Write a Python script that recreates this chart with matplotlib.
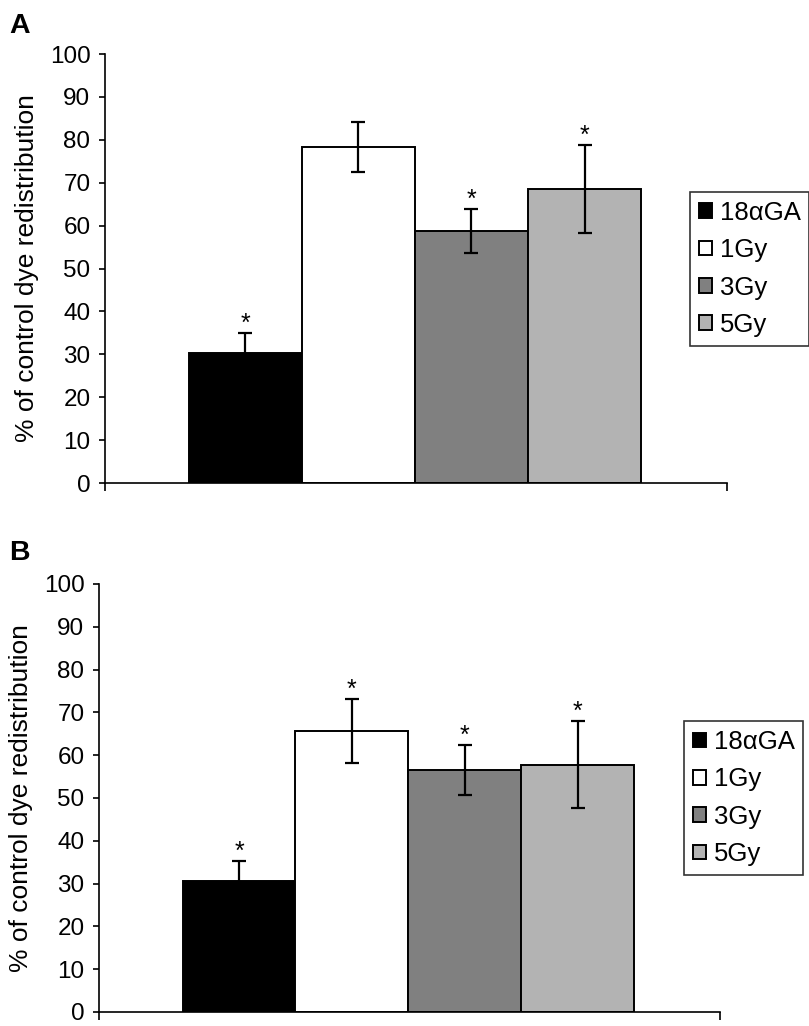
import matplotlib
matplotlib.use('Agg')
import matplotlib.pyplot as plt
import numpy as np

plt.rcParams['font.family'] = ['Liberation Sans', 'DejaVu Sans']

# Data
groups = ['18\u03b1GA', '1Gy', '3Gy', '5Gy']
colors = ['#000000', '#ffffff', '#808080', '#b3b3b3']

values_a = [30.4, 78.4, 58.8, 68.6]
errors_a = [4.5, 5.8, 5.1, 10.2]
stars_a = [True, False, True, True]

values_b = [30.7, 65.6, 56.5, 57.8]
errors_b = [4.5, 7.5, 5.9, 10.1]
stars_b = [True, True, True, True]

yticks = list(range(0, 101, 10))


def draw_panel(ax, values, errors, stars, letter, legend_pos, letter_top):
	x = np.arange(len(groups))
	bars = ax.bar(x, values, width=1.0, color=colors, edgecolor='black',
	              linewidth=1.4, label=groups)
	ax.errorbar(x, values, yerr=errors, fmt='none', ecolor='black',
	            elinewidth=1.6, capsize=5, capthick=1.6)

	# Significance stars above the error bars
	for xi, v, e, s in zip(x, values, errors, stars):
		if s:
			ax.text(xi, v + e - 0.7, '*', ha='center', va='bottom', fontsize=18)

	ax.set_xlim(-1.24, 4.26)
	ax.set_ylim(0, 100)
	ax.set_yticks(yticks)
	ax.set_xticks([-1.24, 4.26])
	ax.set_xticklabels([])
	ax.tick_params(axis='y', direction='out', length=4.5, width=1.2,
	               labelsize=17.5, pad=6)
	ax.tick_params(axis='x', direction='out', length=6, width=1.2)
	ax.set_ylabel('% of control dye redistribution', fontsize=19, labelpad=8)

	# Remove right and top axis
	ax.spines['right'].set_visible(False)
	ax.spines['top'].set_visible(False)
	ax.spines['left'].set_linewidth(1.2)
	ax.spines['bottom'].set_linewidth(1.2)

	leg = ax.legend(bars, groups, loc='upper left',
	                bbox_to_anchor=legend_pos,
	                bbox_transform=ax.figure.transFigure,
	                fontsize=18.5, frameon=True, fancybox=False,
	                edgecolor='black', handlelength=0.5, handleheight=0.5,
	                handletextpad=0.3, labelspacing=0.52, borderpad=0.35,
	                borderaxespad=0)
	leg.get_frame().set_linewidth(1.2)

	ax.figure.text(0.011, letter_top, letter,
	               fontsize=20.5, fontweight='bold', va='top')


fig = plt.figure(figsize=(8.09, 10.26), dpi=100)
ax_a = fig.add_axes([0.1298, 0.5292, 0.769, 0.4181])
ax_b = fig.add_axes([0.1224, 0.0137, 0.7676, 0.4172])

draw_panel(ax_a, values_a, errors_a, stars_a, 'A', (0.853, 0.813), 0.987)
draw_panel(ax_b, values_b, errors_b, stars_b, 'B', (0.8455, 0.2973), 0.474)

fig.savefig('out.png', dpi=100)
